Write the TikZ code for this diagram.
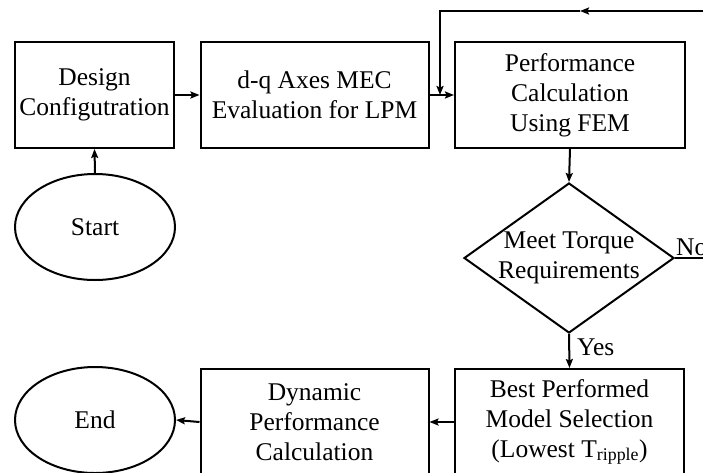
\documentclass[tikz,border=0pt]{standalone}
\usepackage{fontspec}
\setmainfont{Liberation Serif}
\usetikzlibrary{shapes.geometric,arrows.meta}
\begin{document}
\begin{tikzpicture}[x=1pt,y=-1pt,
  every node/.style={font=\fontsize{25.5}{30}\selectfont},
  lw/.style={line width=2pt},
  box/.style={draw, lw, rectangle, minimum width=#1, minimum height=106pt,
    align=center, inner sep=0pt},
  oval/.style={draw, lw, ellipse, minimum width=160pt, minimum height=106pt, inner sep=0pt},
  dec/.style={draw, lw, diamond, minimum width=210pt, minimum height=150pt, inner sep=0pt},
  arr/.style={lw, -{Stealth[length=9pt,width=7pt,inset=1.5pt]}},
  conn/.style={lw},
  lab/.style={inner sep=0pt}]
\useasboundingbox (0,0) rectangle (703,472);
\clip (0,0) rectangle (703,472);
% nodes
\node[box=159pt] (design) at (94.5,95) {Design\\Configutration};
\node[box=228pt] (dq) at (314.5,95) {d-q Axes MEC\\Evaluation for LPM};
\node[box=230pt] (perf) at (570,95) {Performance\\Calculation\\Using FEM};
\node[oval] (start) at (95,227) {Start};
\node[dec, label={[align=center, inner sep=0pt]center:Meet Torque\\Requirements}] (dia) at (569,258) {};
\node[box=229pt] (best) at (569.5,422) {Best Performed\\Model Selection\\(Lowest T\textsubscript{ripple})};
\node[box=228pt] (dyn) at (314.5,422) {Dynamic\\Performance\\Calculation};
\node[oval] (end) at (95,420) {End};
% labels
\node[lab, anchor=base west] (no) at (676,255) {No};
\node[lab, anchor=base west] (yes) at (577,355) {Yes};
% coordinates for feedback loop
\coordinate (fbR) at (720,258);
\coordinate (fbT) at (720,11);
\coordinate (fbM) at (580,11);
\coordinate (fbL) at (440,11);
% connectors
\draw[arr] (start.north) -- (design.south);
\draw[arr] (design.east) -- (dq.west);
\draw[arr] (dq.east) -- (perf.west);
\draw[arr] (perf.south) -- (dia.north);
\draw[arr] (dia.south) -- (best.north);
\draw[arr] (best.west) -- (dyn.east);
\draw[arr] (dyn.west) -- (end.east);
\draw[conn] (dia.east) -- (fbR) -- (fbT);
\draw[arr] (fbT) -- (fbM);
\draw[arr] (fbM) -- (fbL) -- (fbL |- perf.west);
\end{tikzpicture}
\end{document}
